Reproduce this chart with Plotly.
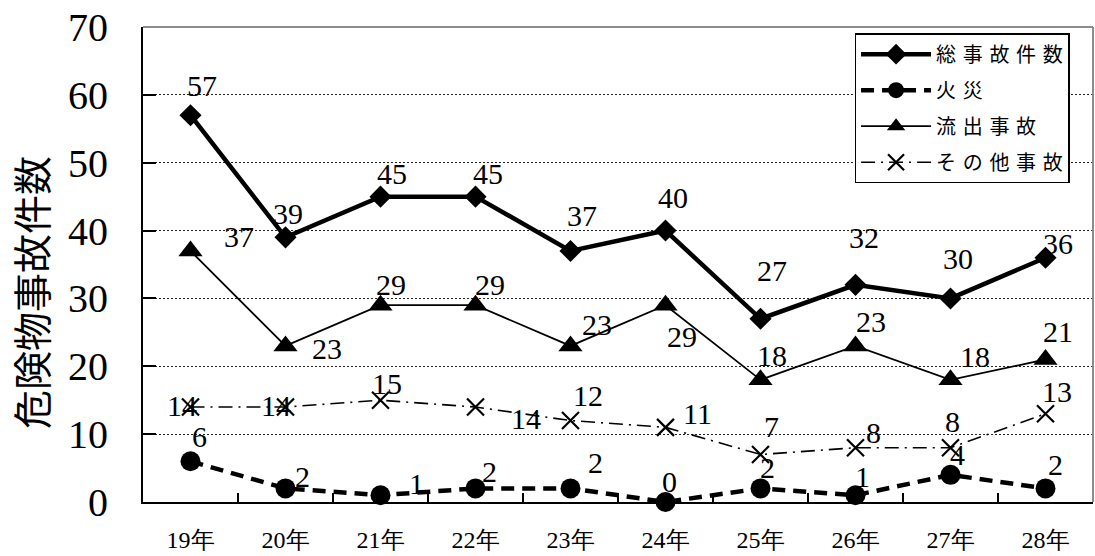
import plotly.graph_objects as go

# Accident counts by fiscal year (Heisei 19-28)
years = ["19年", "20年", "21年", "22年", "23年", "24年", "25年", "26年", "27年", "28年"]
total = [57, 39, 45, 45, 37, 40, 27, 32, 30, 36]
fire = [6, 2, 1, 2, 2, 0, 2, 1, 4, 2]
spill = [37, 23, 29, 29, 23, 29, 18, 23, 18, 21]
other = [14, 14, 15, 14, 12, 11, 7, 8, 8, 13]
series_names = ["総事故件数", "火災", "流出事故", "その他事故"]
y_title = "危険物事故件数"

# Pixel offsets (dx right, dy down) for each value label
total_off = [(11, -30), (2, -24), (11, -23), (12, -23), (11, -35), (7, -33), (11, -48), (8, -47), (7, -40), (12, -14)]
fire_off = [(9, -25), (17, -12), (36, -12), (14, -17), (25, -26), (4, -21), (7, -21), (7, -19), (7, -20), (10, -24)]
spill_off = [(48, -14), (41, 3), (10, -21), (14, -21), (26, -21), (16, 31), (11, -24), (15, -24), (24, -23), (12, -28)]
other_off = [(-9, -2), (-10, -2), (6, -17), (50, 11), (17, -25), (32, -14), (11, -28), (18, -15), (2, -26), (11, -22)]

SERIF = "Liberation Serif"
GOTHIC = "Noto Sans CJK JP, sans-serif"


def spaced(s):
    return "\u2004".join(s)


fig = go.Figure()

styles = [
    (total, dict(color="black", width=4.5), dict(symbol="diamond", size=17, color="black")),
    (fire, dict(color="black", width=4.5, dash="13px,8px"), dict(symbol="circle", size=20, color="black")),
    (spill, dict(color="black", width=1.8), dict(symbol="triangle-up", size=21, color="black")),
    (other, dict(color="black", width=1.6, dash="14px,6px,2px,6px"),
     dict(symbol="x-thin", size=17, color="black", line=dict(color="black", width=2.2))),
]

for i, (vals, ln, mk) in enumerate(styles):
    fig.add_trace(go.Scatter(
        x=years, y=vals, mode="lines+markers", name=spaced(series_names[i]),
        line=ln, marker=mk, legendgroup=f"g{i}", cliponaxis=False,
    ))

annotations = []
for vals, offs in [(total, total_off), (fire, fire_off), (spill, spill_off), (other, other_off)]:
    for xv, yv, (dx, dy) in zip(years, vals, offs):
        annotations.append(dict(
            x=xv, y=yv, xref="x", yref="y", text=str(yv), showarrow=False,
            xshift=dx, yshift=-dy, font=dict(family=SERIF, size=30, color="black"),
        ))

annotations.append(dict(
    x=-0.119, y=0.442, xref="paper", yref="paper", text=y_title, showarrow=False,
    xanchor="center", yanchor="middle",
    textangle=-90, font=dict(family=GOTHIC, size=39, color="black"),
))

fig.update_layout(
    width=1095, height=556,
    margin=dict(l=143, r=2, t=27, b=54),
    paper_bgcolor="white", plot_bgcolor="white",
    annotations=annotations,
    legend=dict(
        x=0.749, y=0.987, xanchor="left", yanchor="top",
        bgcolor="white", bordercolor="black", borderwidth=1.5,
        font=dict(family=GOTHIC, size=20, color="black"),
        itemwidth=70, tracegroupgap=7,
    ),
    shapes=[
        dict(type="line", xref="paper", yref="paper", x0=0, x1=1, y0=1, y1=1,
             line=dict(color="#8c8c8c", width=2), layer="above"),
        dict(type="line", xref="paper", yref="paper", x0=1, x1=1, y0=0, y1=1,
             line=dict(color="#8c8c8c", width=2), layer="above"),
    ],
)

fig.update_xaxes(
    type="category", range=[-0.5, 9.5], showline=True, linecolor="black", linewidth=2,
    ticks="inside", ticklen=9, tickwidth=1.5, tickcolor="black", tickson="boundaries",
    showgrid=False, tickfont=dict(family=SERIF, size=24, color="black"),
    ticklabelstandoff=15,
)
fig.update_yaxes(
    range=[0, 70], dtick=10, showline=True, linecolor="black", linewidth=2,
    ticks="inside", ticklen=13, tickwidth=1.5, tickcolor="black",
    showgrid=True, gridcolor="#222222", gridwidth=1, griddash="2px,2px", zeroline=False,
    tickfont=dict(family=SERIF, size=40, color="black"), ticklabelstandoff=25,
)

fig.write_html("out.html")
